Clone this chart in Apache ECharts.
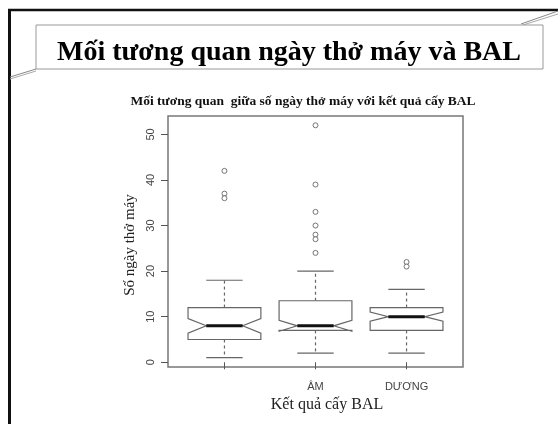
<!DOCTYPE html>
<html>
<head>
<meta charset="utf-8">
<script src="https://cdn.jsdelivr.net/npm/echarts@6/dist/echarts.min.js"></script>
<style>
  html, body { margin: 0; padding: 0; background: #fff; }
  #main { width: 558px; height: 424px; }
</style>
</head>
<body>
<div id="main"></div>
<script>
  // nhóm kết quả cấy BAL
  var categories = ['', 'ÂM', 'DƯƠNG'];
  // [min, Q1, median, Q3, max]
  var boxStats = [
    [1, 5, 8, 12, 18],
    [2, 7, 8, 13.5, 20],
    [2, 7, 10, 12, 16]
  ];
  // khoảng notch [dưới, trên]
  var notches = [
    [6.4, 9.6],
    [6.8, 9.2],
    [9, 11]
  ];
  // giá trị ngoại lai
  var outliers = [
    [42, 37, 36],
    [52, 39, 33, 30, 28, 27, 24],
    [22, 21]
  ];
  var yTicks = [0, 10, 20, 30, 40, 50];

  var serif = '"Liberation Serif", "DejaVu Serif", serif';
  var sans = '"Liberation Sans", Arial, sans-serif';

  var boxData = boxStats.map(function (s, i) {
    return [i + 1, s[0], s[1], s[2], s[3], s[4], notches[i][0], notches[i][1]];
  });

  var outlierData = [];
  outliers.forEach(function (list, i) {
    list.forEach(function (v) {
      outlierData.push([i + 1, v]);
    });
  });

  //vẽ hộp có notch kiểu R
  function renderBox(params, api) {
    var x = api.value(0);
    var halfW = api.size([0.4, 0])[0];
    var capW = halfW / 2;
    var cx = api.coord([x, 0])[0];
    function y(v) { return api.coord([x, v])[1]; }
    var yMin = y(api.value(1)), yQ1 = y(api.value(2)), yMed = y(api.value(3)),
      yQ3 = y(api.value(4)), yMax = y(api.value(5)),
      yNLo = y(api.value(6)), yNHi = y(api.value(7));
    var l = cx - halfW, r = cx + halfW;
    var lineStyle = { stroke: '#666', lineWidth: 1.2, fill: null };
    var dashStyle = { stroke: '#666', lineWidth: 1.2, lineDash: [3, 3] };
    return {
      type: 'group',
      children: [
        { type: 'line', shape: { x1: cx, y1: yQ3, x2: cx, y2: yMax }, style: dashStyle },
        { type: 'line', shape: { x1: cx, y1: yQ1, x2: cx, y2: yMin }, style: dashStyle },
        { type: 'line', shape: { x1: cx - capW, y1: yMax, x2: cx + capW, y2: yMax }, style: lineStyle },
        { type: 'line', shape: { x1: cx - capW, y1: yMin, x2: cx + capW, y2: yMin }, style: lineStyle },
        {
          type: 'polygon',
          shape: {
            points: [
              [l, yQ1], [l, yNLo], [cx - capW, yMed], [l, yNHi], [l, yQ3],
              [r, yQ3], [r, yNHi], [cx + capW, yMed], [r, yNLo], [r, yQ1]
            ]
          },
          style: { stroke: '#666', lineWidth: 1.2, fill: '#fff' }
        },
        { type: 'line', shape: { x1: cx - capW, y1: yMed, x2: cx + capW, y2: yMed }, style: { stroke: '#111', lineWidth: 3 } }
      ]
    };
  }

  var chart = echarts.init(document.getElementById('main'));

  var option = {
    backgroundColor: '#fff',
    animation: false,
    grid: {
      left: 168,
      right: 95,
      top: 116,
      bottom: 57,
      show: true,
      borderColor: '#777',
      borderWidth: 1.5
    },
    xAxis: {
      type: 'value',
      min: 0.38,
      max: 3.62,
      splitLine: { show: false },
      axisLine: { show: false },
      axisTick: { show: true, length: 7, customValues: [1, 2, 3], lineStyle: { color: '#555' } },
      axisLabel: {
        customValues: [1, 2, 3],
        margin: 14,
        color: '#444',
        fontFamily: sans,
        fontSize: 11,
        formatter: function (v) { return categories[Math.round(v) - 1]; }
      }
    },
    yAxis: {
      type: 'value',
      min: -1.04,
      max: 54.04,
      splitLine: { show: false },
      axisLine: { show: false },
      axisTick: { show: true, length: 7, customValues: yTicks, lineStyle: { color: '#555' } },
      axisLabel: {
        customValues: yTicks,
        rotate: 90,
        margin: 12,
        color: '#444',
        fontFamily: sans,
        fontSize: 11
      }
    },
    series: [
      {
        type: 'custom',
        renderItem: renderBox,
        data: boxData,
        encode: { x: 0, y: [1, 5] },
        z: 2
      },
      {
        type: 'scatter',
        data: outlierData,
        symbol: 'circle',
        symbolSize: 5,
        itemStyle: { color: '#fff', borderColor: '#555', borderWidth: 1 },
        z: 3
      }
    ],
    graphic: [
      // khung slide
      { type: 'line', shape: { x1: 9.5, y1: 10, x2: 9.5, y2: 424 }, style: { stroke: '#111', lineWidth: 3 } },
      { type: 'line', shape: { x1: 8, y1: 10, x2: 558, y2: 10 }, style: { stroke: '#111', lineWidth: 2.5 } },
      { type: 'line', shape: { x1: 10, y1: 77, x2: 36, y2: 69 }, style: { stroke: '#888', lineWidth: 1 } },
      { type: 'line', shape: { x1: 10, y1: 79, x2: 36, y2: 71 }, style: { stroke: '#aaa', lineWidth: 1 } },
      { type: 'line', shape: { x1: 521, y1: 24, x2: 558, y2: 11 }, style: { stroke: '#888', lineWidth: 1 } },
      { type: 'line', shape: { x1: 523, y1: 25, x2: 558, y2: 14 }, style: { stroke: '#aaa', lineWidth: 1 } },
      { type: 'rect', shape: { x: 36, y: 25, width: 507, height: 44 }, style: { fill: '#fff', stroke: '#999', lineWidth: 1 } },
      {
        type: 'text', x: 289, y: 53,
        style: { text: 'Mối tương quan ngày thở máy và BAL', font: 'bold 28px ' + serif, fill: '#000', textAlign: 'center', textVerticalAlign: 'middle', align: 'center', verticalAlign: 'middle' }
      },
      {
        type: 'text', x: 303, y: 102,
        style: { text: 'Mối tương quan  giữa số ngày thở máy với kết quả cấy BAL', font: 'bold 13.5px ' + serif, fill: '#111', textAlign: 'center', textVerticalAlign: 'middle', align: 'center', verticalAlign: 'middle' }
      },
      {
        type: 'text', x: 327, y: 405,
        style: { text: 'Kết quả cấy BAL', font: '16px ' + serif, fill: '#222', textAlign: 'center', textVerticalAlign: 'middle', align: 'center', verticalAlign: 'middle' }
      },
      {
        type: 'text', x: 130, y: 245, rotation: Math.PI / 2,
        style: { text: 'Số ngày thở máy', font: '15px ' + serif, fill: '#222', textAlign: 'center', textVerticalAlign: 'middle', align: 'center', verticalAlign: 'middle' }
      }
    ]
  };

  chart.setOption(option);
</script>
</body>
</html>
